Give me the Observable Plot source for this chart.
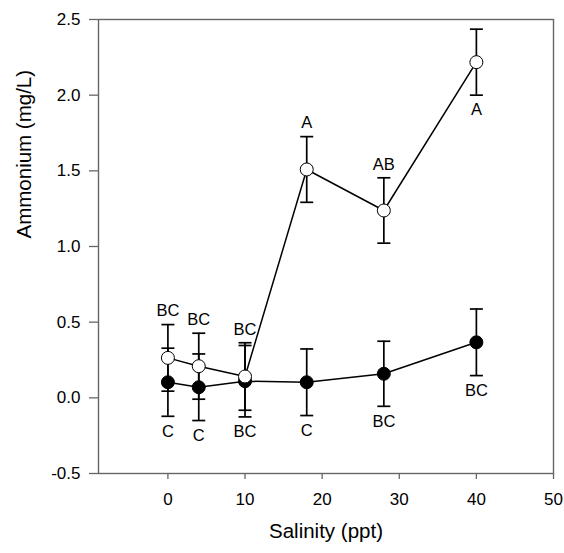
<!DOCTYPE html>
<html>
<head>
<meta charset="utf-8">
<script src="https://cdn.jsdelivr.net/npm/d3@7"></script>
<script src="https://cdn.jsdelivr.net/npm/@observablehq/plot@0.6"></script>
<style>
  html, body { margin: 0; padding: 0; background: #fff; }
  #chart svg { display: block; }
</style>
</head>
<body>
<div id="chart"></div>
<script>
// ---- data ----
const salinity = [0, 4, 10, 18, 28, 40];
const openMean = [0.264, 0.209, 0.141, 1.509, 1.238, 2.218];
const openErr  = [0.220, 0.218, 0.223, 0.217, 0.216, 0.218];
const openLetters = ["BC", "BC", "BC", "A", "AB", "A"];
const openSide = ["above", "above", "above", "above", "above", "below"];
const filledMean = [0.103, 0.070, 0.110, 0.103, 0.159, 0.367];
const filledErr  = [0.225, 0.220, 0.236, 0.220, 0.215, 0.220];
const filledLetters = ["C", "C", "BC", "C", "BC", "BC"];
const filledSide = ["below", "below", "below", "below", "below", "below"];
const xTicks = [0, 10, 20, 30, 40, 50];
const yTicks = [-0.5, 0.0, 0.5, 1.0, 1.5, 2.0, 2.5];
const xTitle = "Salinity (ppt)";
const yTitle = "Ammonium (mg/L)";

const build = (means, errs, letters, sides, series) =>
  salinity.map((s, i) => ({
    s, m: means[i], lo: means[i] - errs[i], hi: means[i] + errs[i],
    letter: letters[i], side: sides[i], series
  }));
const openData = build(openMean, openErr, openLetters, openSide, "open");
const filledData = build(filledMean, filledErr, filledLetters, filledSide, "filled");
const all = [...filledData, ...openData];

const cap = {
  draw(context, size) {
    const w = Math.sqrt(size / Math.PI);
    context.moveTo(-w, 0);
    context.lineTo(w, 0);
  }
};

const font = "Liberation Sans, Arial, sans-serif";
const labelText = (data, side, dy) => Plot.text(data.filter(d => d.side === side), {
  x: "s", y: side === "above" ? "hi" : "lo", text: "letter",
  dy, fontSize: 16.5, fill: "#000", fontFamily: font
});
const yFmt = d => d3.format(".1f")(d).replace("\u2212", "-");

const chart = Plot.plot({
  width: 564,
  height: 553,
  marginLeft: 98,
  marginRight: 11,
  marginTop: 19,
  marginBottom: 80,
  style: { fontFamily: font, background: "#fff", overflow: "visible" },
  x: { domain: [-9, 50] },
  y: { domain: [-0.5, 2.5] },
  marks: [
    Plot.frame({ stroke: "#666", strokeWidth: 1.4 }),
    Plot.axisX({ ticks: xTicks, tickSize: 6, tickPadding: 13, tickFormat: d3.format("d"),
      fontSize: 17, stroke: "#666", strokeWidth: 1.3, color: "#000", label: null }),
    Plot.axisY({ ticks: yTicks, tickSize: 9, tickPadding: 9, tickFormat: yFmt,
      fontSize: 17, stroke: "#666", strokeWidth: 1.3, color: "#000", label: null }),
    Plot.text([xTitle], { frameAnchor: "bottom", dy: 64, fontSize: 20.5, fill: "#000", fontFamily: font }),
    Plot.text([yTitle], { frameAnchor: "left", rotate: -90, dx: -74, dy: -8, fontSize: 20.5, fill: "#000", fontFamily: font }),
    // error bars
    Plot.ruleX(all, { x: "s", y1: "lo", y2: "hi", stroke: "#000", strokeWidth: 1.7 }),
    Plot.dot(all, { x: "s", y: "lo", symbol: cap, r: 6.5, stroke: "#000", strokeWidth: 1.7, fill: "none" }),
    Plot.dot(all, { x: "s", y: "hi", symbol: cap, r: 6.5, stroke: "#000", strokeWidth: 1.7, fill: "none" }),
    // lines
    Plot.line(filledData, { x: "s", y: "m", stroke: "#000", strokeWidth: 1.5 }),
    Plot.line(openData, { x: "s", y: "m", stroke: "#000", strokeWidth: 1.5 }),
    // points
    Plot.dot(filledData, { x: "s", y: "m", r: 6.5, fill: "#000", stroke: "#000", strokeWidth: 1 }),
    Plot.dot(openData, { x: "s", y: "m", r: 6.5, fill: "#fff", stroke: "#000", strokeWidth: 1 }),
    // letters
    labelText(openData, "above", -13.5),
    labelText(openData, "below", 15),
    labelText(filledData, "below", 15)
  ]
});
document.getElementById("chart").appendChild(chart);
</script>
</body>
</html>
